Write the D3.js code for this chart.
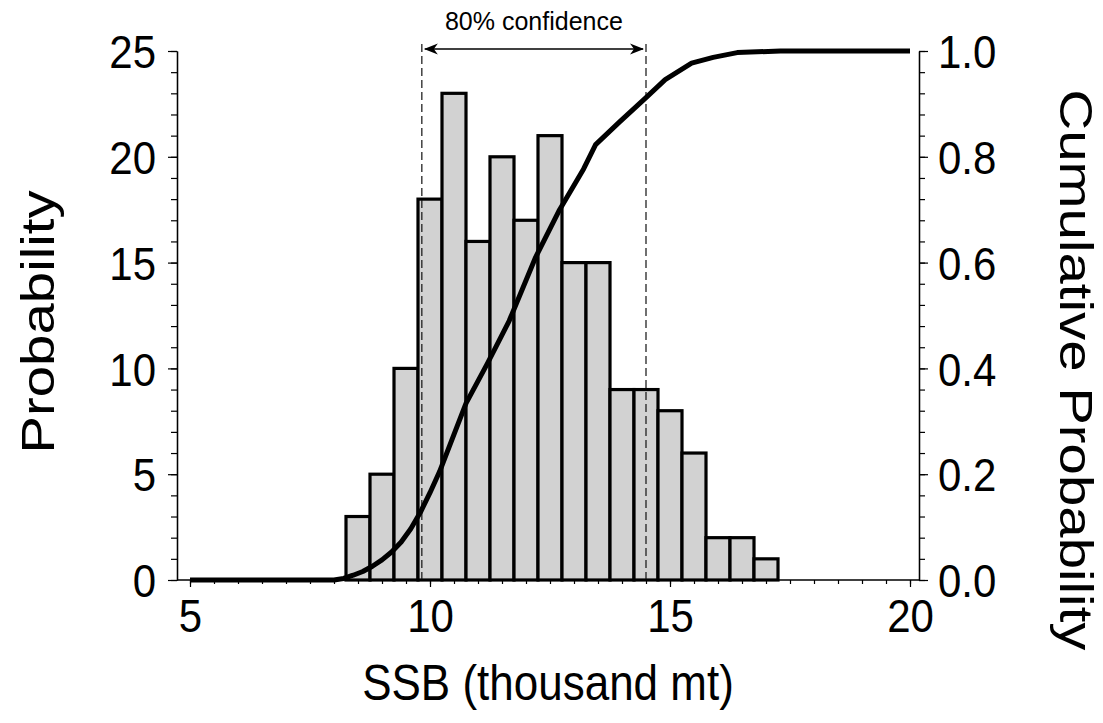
<!DOCTYPE html>
<html>
<head>
<meta charset="utf-8">
<script src="https://cdn.jsdelivr.net/npm/d3@7"></script>
<style>
  body { margin: 0; background: #fff; }
  text { font-family: "Liberation Sans", Arial, sans-serif; fill: #000; }
</style>
</head>
<body>
<svg id="chart" width="1103" height="723"></svg>
<script>
// Histogram of SSB outcomes (bin centres, thousand mt) and their counts
const binCenters = [8.5, 9.0, 9.5, 10.0, 10.5, 11.0, 11.5, 12.0, 12.5, 13.0, 13.5, 14.0, 14.5, 15.0, 15.5, 16.0, 16.5, 17.0];
const binCounts  = [3, 5, 10, 18, 23, 16, 20, 17, 21, 15, 15, 9, 9, 8, 6, 2, 2, 1];
const binWidth = 0.5;

// Cumulative probability curve
const cumSSB  = [5.0, 8.0, 8.2, 8.4, 8.6, 8.8, 9.0, 9.2, 9.4, 9.6, 9.8, 10.0, 10.2, 10.75, 11.2, 11.65, 12.2, 12.7, 13.2, 13.45, 13.95, 14.5, 14.9, 15.45, 15.9, 16.4, 17.3, 20.0];
const cumProb = [0, 0, 0.003, 0.009, 0.016, 0.026, 0.038, 0.053, 0.072, 0.097, 0.128, 0.165, 0.205, 0.334, 0.41, 0.49, 0.61, 0.70, 0.777, 0.823, 0.866, 0.912, 0.946, 0.977, 0.988, 0.997, 1.0, 1.0];

// 80% confidence interval bounds
const confidenceBounds = [9.83, 14.5];
const confidenceLabel = "80% confidence";

// Tick values
const ssbTicks  = [5, 10, 15, 20];
const probTicks = [0, 5, 10, 15, 20, 25];
const cumTicks  = [0, 0.2, 0.4, 0.6, 0.8, 1.0];

const svg = d3.select("#chart");

const plotLeft = 177, plotRight = 919, plotBottom = 580, plotTop = 51;
const tickStretch = 1.1, titleStretch = 1.12, sideTitleStretch = 1.2;

const x  = d3.scaleLinear().domain([5, 20]).range([190, 910]);
const yL = d3.scaleLinear().domain([0, 25]).range([plotBottom, plotTop]);
const yR = d3.scaleLinear().domain([0, 1]).range([plotBottom, plotTop]);

// Bars
svg.append("g").selectAll("rect")
  .data(binCenters.map((c, i) => ({ c, n: binCounts[i] })))
  .join("rect")
  .attr("x", d => x(d.c - binWidth / 2))
  .attr("width", d => x(d.c + binWidth / 2) - x(d.c - binWidth / 2))
  .attr("y", d => yL(d.n))
  .attr("height", d => yL(0) - yL(d.n))
  .attr("fill", "#d2d2d2")
  .attr("stroke", "#000")
  .attr("stroke-width", 3.2);

// Confidence bounds (dashed) and arrow
const defs = svg.append("defs");
["start", "end"].forEach(k => {
  defs.append("marker")
    .attr("id", "arrow-" + k)
    .attr("viewBox", "0 -6 14 12")
    .attr("refX", 13)
    .attr("refY", 0)
    .attr("markerWidth", 14)
    .attr("markerHeight", 12)
    .attr("markerUnits", "userSpaceOnUse")
    .attr("orient", "auto-start-reverse")
    .append("path")
    .attr("d", "M0,-5.5 L14,0 L0,5.5 L4,0 Z")
    .attr("fill", "#000");
});

svg.append("g").selectAll("line")
  .data(confidenceBounds)
  .join("line")
  .attr("x1", d => x(d)).attr("x2", d => x(d))
  .attr("y1", 44).attr("y2", plotBottom)
  .attr("stroke", "#111")
  .attr("stroke-width", 1.2)
  .attr("stroke-dasharray", "8,4");

svg.append("line")
  .attr("x1", x(confidenceBounds[0]) + 3)
  .attr("x2", x(confidenceBounds[1]) - 3)
  .attr("y1", 49).attr("y2", 49)
  .attr("stroke", "#000")
  .attr("stroke-width", 1.5)
  .attr("marker-start", "url(#arrow-start)")
  .attr("marker-end", "url(#arrow-end)");

svg.append("text")
  .attr("x", (x(confidenceBounds[0]) + x(confidenceBounds[1])) / 2)
  .attr("y", 21)
  .attr("text-anchor", "middle")
  .attr("dy", "0.35em")
  .attr("font-size", 25)
  .text(confidenceLabel);

// Cumulative curve
svg.append("path")
  .datum(cumSSB.map((s, i) => [s, cumProb[i]]))
  .attr("fill", "none")
  .attr("stroke", "#000")
  .attr("stroke-width", 5)
  .attr("stroke-linejoin", "round")
  .attr("d", d3.line().x(d => x(d[0])).y(d => yR(d[1])));

// Axes
function styleAxis(g) {
  g.selectAll("path.domain").attr("stroke", "#000").attr("stroke-width", 1.3);
  g.selectAll(".tick line").attr("stroke", "#000").attr("stroke-width", 1.2);
}

// left: minor ticks every unit, labelled ticks every 5
svg.append("g").attr("transform", `translate(${plotLeft},0)`)
  .call(d3.axisLeft(yL).tickValues(d3.range(0, 25.001, 1)).tickSize(6).tickSizeOuter(0).tickFormat(""))
  .call(styleAxis);
const gL = svg.append("g").attr("transform", `translate(${plotLeft},0)`)
  .call(d3.axisLeft(yL).tickValues(probTicks).tickSize(9).tickSizeOuter(0).tickPadding(12).tickFormat(d3.format("d")))
  .call(styleAxis);
gL.selectAll(".tick text").attr("font-size", 42).attr("font-family", null)
  .attr("dy", "0.36em").attr("transform", `scale(1,${tickStretch})`);

// right
svg.append("g").attr("transform", `translate(${plotRight},0)`)
  .call(d3.axisRight(yR).tickValues(d3.range(0, 1.0001, 0.04)).tickSize(6).tickSizeOuter(0).tickFormat(""))
  .call(styleAxis);
const gR = svg.append("g").attr("transform", `translate(${plotRight},0)`)
  .call(d3.axisRight(yR).tickValues(cumTicks).tickSize(9).tickSizeOuter(0).tickPadding(10).tickFormat(d3.format(".1f")))
  .call(styleAxis);
gR.selectAll(".tick text").attr("font-size", 42).attr("font-family", null)
  .attr("dy", "0.36em").attr("transform", `scale(1,${tickStretch})`);

// bottom
svg.append("line")
  .attr("x1", plotLeft).attr("x2", plotRight)
  .attr("y1", plotBottom).attr("y2", plotBottom)
  .attr("stroke", "#000").attr("stroke-width", 1.5);
svg.append("g").attr("transform", `translate(0,${plotBottom})`)
  .call(d3.axisBottom(x).tickValues(d3.range(5, 20.001, 0.5)).tickSize(4).tickSizeOuter(0).tickFormat(""))
  .call(g => g.select(".domain").remove())
  .call(styleAxis);
const gB = svg.append("g").attr("transform", `translate(0,${plotBottom})`)
  .call(d3.axisBottom(x).tickValues(ssbTicks).tickSize(7).tickSizeOuter(0).tickFormat(d3.format("d")))
  .call(g => g.select(".domain").remove())
  .call(styleAxis);
gB.selectAll(".tick text").attr("font-size", 42).attr("font-family", null)
  .attr("y", 0).attr("dy", "0.36em").attr("transform", `translate(0,35) scale(1,${tickStretch})`);

// Axis titles
svg.append("g")
  .attr("transform", `translate(548,683) scale(1,${titleStretch})`)
  .append("text").attr("text-anchor", "middle").attr("dy", "0.35em")
  .attr("font-size", 44).text("SSB (thousand mt)");

svg.append("g")
  .attr("transform", `translate(38,322) rotate(-90) scale(${sideTitleStretch},1)`)
  .append("text").attr("text-anchor", "middle").attr("dy", "0.35em")
  .attr("font-size", 47).text("Probability");

svg.append("g")
  .attr("transform", `translate(1076,370) rotate(90) scale(${sideTitleStretch},1)`)
  .append("text").attr("text-anchor", "middle").attr("dy", "0.35em")
  .attr("font-size", 47).text("Cumulative Probability");
</script>
</body>
</html>
